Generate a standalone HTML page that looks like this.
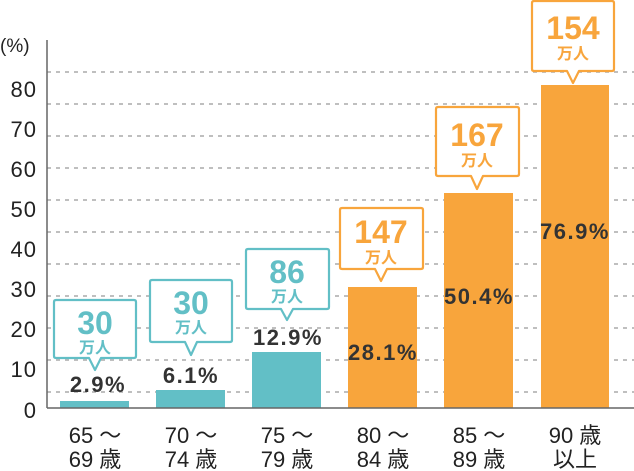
<!DOCTYPE html>
<html><head><meta charset="utf-8"><style>
html,body{margin:0;padding:0;background:#fff;}
svg{display:block;}
text{font-family:"Liberation Sans","Noto Sans CJK JP",sans-serif;}
</style></head><body>
<svg width="634" height="471" viewBox="0 0 634 471" xmlns="http://www.w3.org/2000/svg">
<g stroke="#aaa" stroke-width="1.5" stroke-dasharray="4,5">
<line x1="47" y1="72" x2="634" y2="72"/><line x1="47" y1="104" x2="634" y2="104"/>
<line x1="47" y1="136" x2="634" y2="136"/><line x1="47" y1="168" x2="634" y2="168"/>
<line x1="47" y1="200" x2="634" y2="200"/><line x1="47" y1="232" x2="634" y2="232"/>
<line x1="47" y1="264" x2="634" y2="264"/><line x1="47" y1="296" x2="634" y2="296"/>
<line x1="47" y1="328" x2="634" y2="328"/><line x1="47" y1="360" x2="634" y2="360"/>
<line x1="47" y1="392" x2="634" y2="392"/>
</g>
<g fill="#62bfc6">
<rect x="60" y="401" width="69" height="7"/>
<rect x="156" y="390" width="69" height="18"/>
<rect x="252" y="352" width="69" height="56"/>
</g>
<g fill="#f8a53c">
<rect x="348" y="287" width="69" height="121"/>
<rect x="444" y="193" width="69" height="215"/>
<rect x="541" y="85" width="68" height="323"/>
</g>
<line x1="47" y1="40" x2="47" y2="408" stroke="#666" stroke-width="1.5"/>
<line x1="47" y1="408" x2="634" y2="408" stroke="#666" stroke-width="1.5"/>
<g font-size="22" fill="#222" text-anchor="end" letter-spacing="1">
<text x="37" y="97">80</text><text x="37" y="137">70</text><text x="37" y="177">60</text>
<text x="37" y="217">50</text><text x="37" y="257">40</text><text x="37" y="297">30</text>
<text x="37" y="337">20</text><text x="37" y="377">10</text><text x="37" y="418">0</text>
</g>
<text x="0" y="52" font-size="19" fill="#222">(%)</text>
<g fill="#fff" stroke-width="2.2" stroke-linejoin="round">
<path stroke="#62bfc6" d="M56,300 H134 Q136,300 136,302 V356 Q136,358 134,358 H101 L95,370 L89,358 H56 Q54,358 54,356 V302 Q54,300 56,300Z"/>
<path stroke="#62bfc6" d="M152,280 H230 Q232,280 232,282 V340 Q232,342 230,342 H197 L191,355 L185,342 H152 Q150,342 150,340 V282 Q150,280 152,280Z"/>
<path stroke="#62bfc6" d="M248,249 H327 Q329,249 329,251 V307 Q329,309 327,309 H293 L287,320 L281,309 H248 Q246,309 246,307 V251 Q246,249 248,249Z"/>
<path stroke="#f8a53c" d="M342,208 H421 Q423,208 423,210 V267 Q423,269 421,269 H387 L381,281 L375,269 H342 Q340,269 340,267 V210 Q340,208 342,208Z"/>
<path stroke="#f8a53c" d="M438,107 H517 Q519,107 519,109 V174 Q519,176 517,176 H483 L477,189 L471,176 H438 Q436,176 436,174 V109 Q436,107 438,107Z"/>
<path stroke="#f8a53c" d="M534,1 H612 Q614,1 614,3 V69 Q614,71 612,71 H579 L573,83 L567,71 H534 Q532,71 532,69 V3 Q532,1 534,1Z"/>
</g>
<g font-weight="bold" text-anchor="middle">
<g fill="#62bfc6">
<text x="95" y="334" font-size="32">30</text><text x="95" y="353" font-size="16">万人</text>
<text x="191" y="314" font-size="32">30</text><text x="191" y="333" font-size="16">万人</text>
<text x="287" y="283" font-size="32">86</text><text x="287" y="302" font-size="16">万人</text>
</g>
<g fill="#f8a53c">
<text x="381" y="243" font-size="32">147</text><text x="381" y="263" font-size="16">万人</text>
<text x="477" y="146" font-size="32">167</text><text x="477" y="166" font-size="16">万人</text>
<text x="573" y="39" font-size="32">154</text><text x="573" y="59" font-size="16">万人</text>
</g>
<g fill="#333" font-size="22" letter-spacing="1.5">
<text x="98" y="392">2.9%</text>
<text x="191" y="383">6.1%</text>
<text x="288" y="345">12.9%</text>
<text x="383" y="360">28.1%</text>
<text x="479" y="304">50.4%</text>
<text x="575" y="239">76.9%</text>
</g>
</g>
<g font-size="22" fill="#222" text-anchor="middle">
<text x="95" y="443">65 ～</text><text x="95" y="467">69 歳</text>
<text x="191" y="443">70 ～</text><text x="191" y="467">74 歳</text>
<text x="287" y="443">75 ～</text><text x="287" y="467">79 歳</text>
<text x="383" y="443">80 ～</text><text x="383" y="467">84 歳</text>
<text x="479" y="443">85 ～</text><text x="479" y="467">89 歳</text>
<text x="575" y="443">90 歳</text><text x="575" y="467">以上</text>
</g>
</svg>
</body></html>
